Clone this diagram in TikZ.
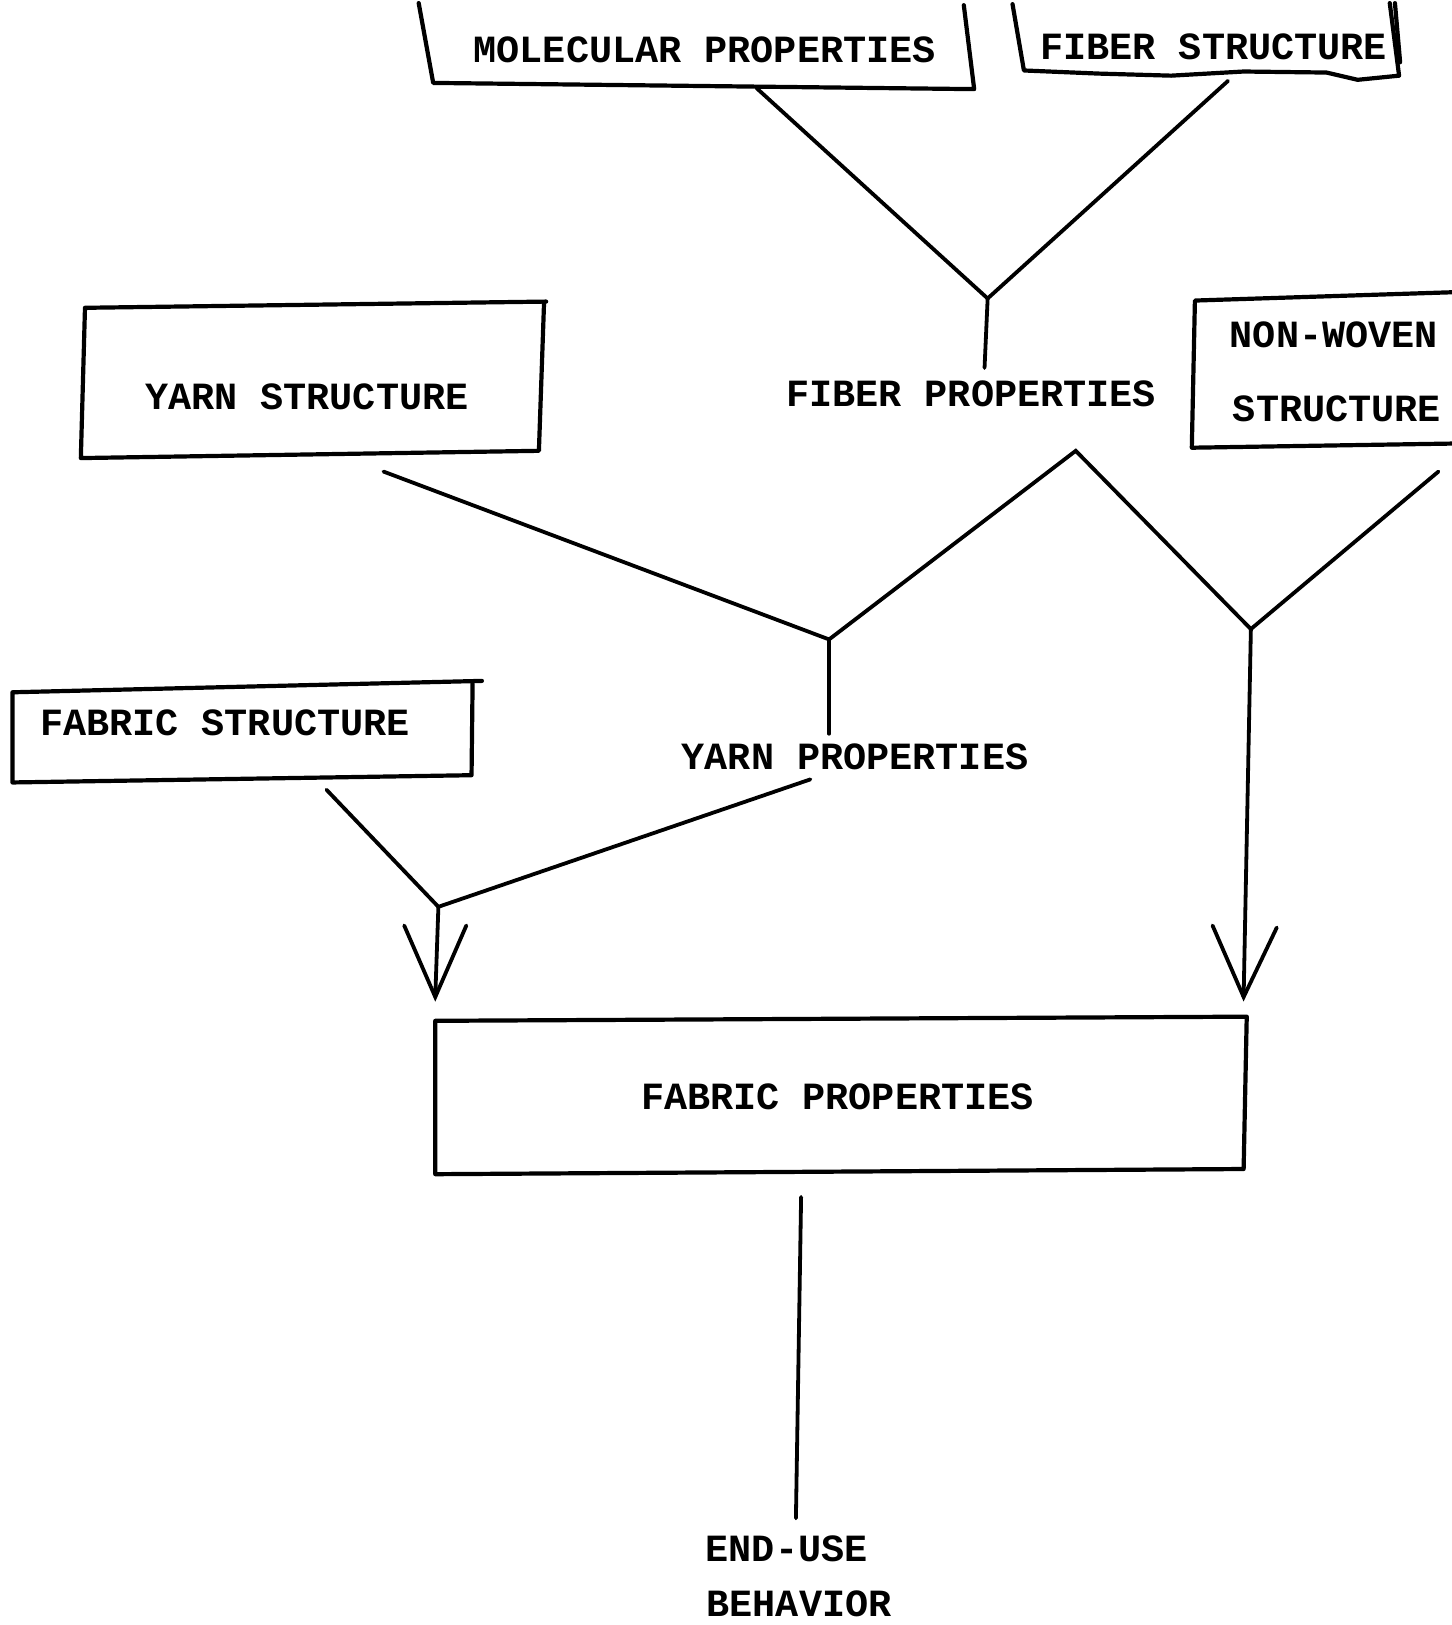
\documentclass[tikz,border=0pt]{standalone}
\usepackage{fontspec}
\setmonofont{Liberation Mono}
\begin{document}
\begin{tikzpicture}[x=1.0364pt,y=-1.0364pt,
  lbl/.style={font=\ttfamily\bfseries\fontsize{38.5}{44}\selectfont, inner sep=0pt, anchor=center},
  boxline/.style={line width=4.2pt, line join=round, line cap=round},
  conn/.style={line width=3.8pt, line join=miter, line cap=round}]
\useasboundingbox (0,0) rectangle (1401,1568);
% labels
\node[lbl] (mol) at (680,48) {MOLECULAR PROPERTIES};
\node[lbl] (fst) at (1171,45) {FIBER STRUCTURE};
\node[lbl] (fpr) at (937,380) {FIBER PROPERTIES};
\node[lbl] (yst) at (296,383) {YARN STRUCTURE};
\node[lbl] (nw1) at (1287,323) {NON-WOVEN};
\node[lbl] (nw2) at (1290,394) {STRUCTURE};
\node[lbl] (fbs) at (217,697) {FABRIC STRUCTURE};
\node[lbl] (ypr) at (825,730) {YARN PROPERTIES};
\node[lbl] (fbp) at (808,1058) {FABRIC PROPERTIES};
\node[lbl] (eu1) at (759,1494) {END-USE};
\node[lbl] (eu2) at (771,1548) {BEHAVIOR};
% boxes
\draw[boxline] (404,3) -- (418,80) -- (940,86) -- (930,5);
\draw[boxline] (977,4) -- (988,68) -- (1060,71) -- (1130,73) -- (1200,69) -- (1280,70) -- (1310,77) -- (1350,73) -- (1341,3);
\draw[boxline] (1346,3) -- (1351,60);
\draw[boxline] (527,291) -- (82,297) -- (78,442) -- (520,435) -- (525,291);
\draw[boxline] (1401,282) -- (1153,290) -- (1150,432) -- (1401,428);
\draw[boxline] (465,657) -- (12,668) -- (12,755) -- (455,748) -- (456,660);
\draw[boxline] (420,985) -- (1203,981) -- (1200,1128) -- (420,1133) -- (420,985);
% connector coordinates
\coordinate (a1) at (730,85);
\coordinate (a2) at (1185,78);
\coordinate (j1) at (953,288);
\coordinate (a3) at (950,355);
\coordinate (b1) at (370,455);
\coordinate (j2) at (800,617);
\coordinate (pk) at (1038,435);
\coordinate (j3) at (1207,607);
\coordinate (b2) at (1388,455);
\coordinate (b3) at (800,708);
\coordinate (t2) at (1200,962);
\coordinate (c1) at (315,762);
\coordinate (c2) at (782,752);
\coordinate (j4) at (423,875);
\coordinate (t1) at (420,962);
\coordinate (d1) at (773,1155);
\coordinate (d2) at (768,1465);
% connectors
\draw[conn] (a1) -- (j1) -- (a2);
\draw[conn] (j1) -- (a3);
\draw[conn] (b1) -- (j2) -- (pk) -- (j3) -- (b2);
\draw[conn] (j2) -- (b3);
\draw[conn] (j3) -- (t2);
\draw[conn] (c1) -- (j4) -- (c2);
\draw[conn] (j4) -- (t1);
\draw[conn] ([shift={(-30,-69)}]t1) -- (t1) -- ([shift={(30,-69)}]t1);
\draw[conn] ([shift={(-30,-69)}]t2) -- (t2) -- ([shift={(32,-67)}]t2);
\draw[conn] (d1) -- (d2);
\end{tikzpicture}
\end{document}
